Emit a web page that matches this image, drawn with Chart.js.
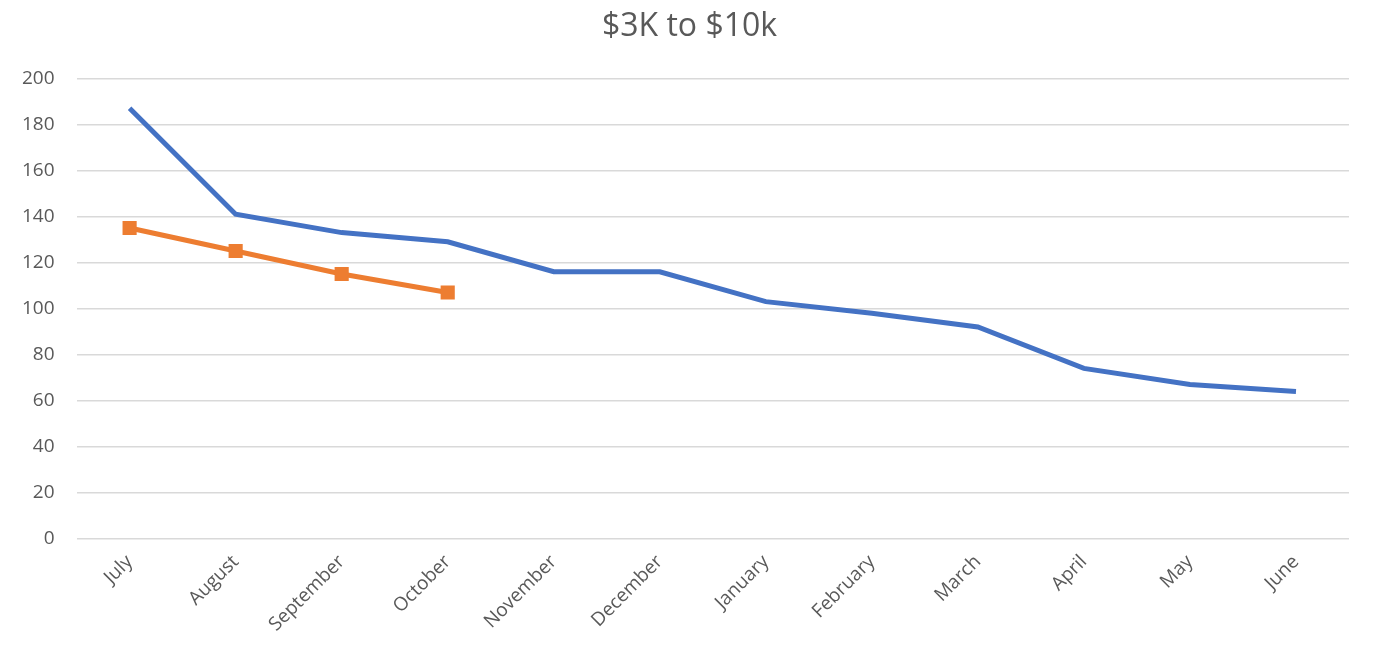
<!DOCTYPE html>
<html>
<head>
<meta charset="utf-8">
<script src="https://cdn.jsdelivr.net/npm/chart.js@4/dist/chart.umd.min.js"></script>
<style>
  html, body { margin: 0; padding: 0; background: #fff; }
  #wrap { width: 1393px; height: 648px; }
</style>
</head>
<body>
<div id="wrap"><canvas id="line"></canvas></div>
<script>
// data
const months = ["July", "August", "September", "October", "November", "December",
  "January", "February", "March", "April", "May", "June"];
const blueSeries = [187, 141, 133, 129, 116, 116, 103, 98, 92, 74, 67, 64];
const orangeSeries = [135, 125, 115, 107, null, null, null, null, null, null, null, null];
const yTicks = [0, 20, 40, 60, 80, 100, 120, 140, 160, 180, 200];

const textColor = "#595959";

function createChart(labels, datasets, type, options, element){
  const ctx = document.getElementById(element);
  return new Chart(ctx, { type: type, data: { labels: labels, datasets: datasets }, options: options });
}

const lineChart = createChart(
  months,
  [
    {
      label: "Series 1",
      data: blueSeries,
      borderColor: "#4472C4",
      backgroundColor: "#4472C4",
      borderWidth: 5,
      pointRadius: 0,
      tension: 0,
    },
    {
      label: "Series 2",
      data: orangeSeries,
      borderColor: "#ED7D31",
      backgroundColor: "#ED7D31",
      borderWidth: 5,
      pointStyle: "rect",
      pointRadius: 10,
      pointBorderWidth: 0,
      tension: 0,
    },
  ],
  "line",
  {
    responsive: true,
    maintainAspectRatio: false,
    animation: false,
    layout: { padding: { left: 0, right: 14, top: 0, bottom: 8 } },
    plugins: {
      legend: { display: false },
      tooltip: { enabled: false },
      title: {
        display: true,
        text: "$3K to $10k",
        color: textColor,
        font: { family: "Open Sans", size: 32, weight: "normal" },
        padding: { top: 8, bottom: 32 },
      },
    },
    scales: {
      x: {
        offset: true,
        grid: { display: false },
        border: { display: false },
        ticks: {
          color: textColor,
          font: { family: "Open Sans", size: 19 },
          maxRotation: 45,
          minRotation: 45,
          padding: 4,
        },
      },
      y: {
        min: 0,
        max: 200,
        afterBuildTicks: (axis) => { axis.ticks = yTicks.map(v => ({ value: v })); },
        grid: { color: "#D9D9D9", lineWidth: 1.5, drawTicks: false },
        border: { display: false },
        ticks: {
          color: textColor,
          font: { family: "Open Sans", size: 19 },
          padding: 22,
        },
      },
      // empty right-hand spacer so the title centres like the original
      yRight: {
        position: "right",
        min: 0,
        max: 200,
        grid: { display: false },
        border: { display: false },
        ticks: { display: false },
        afterFit: (axis) => { axis.width = 30; },
      },
    },
  },
  "line"
);
</script>
</body>
</html>
